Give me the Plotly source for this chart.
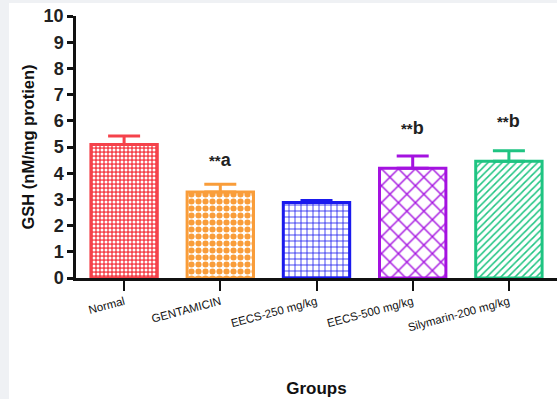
import plotly.graph_objects as go

groups = ["Normal", "GENTAMICIN", "EECS-250 mg/kg", "EECS-500 mg/kg", "Silymarin-200 mg/kg"]
tick_labels = ["Normal", "GENTAMICIN", "EECS-250 mg/kg", "EECS-500 mg/kg", "Silymarin-200 mg/kg"]
gsh_mean = [5.10, 3.28, 2.88, 4.19, 4.46]
gsh_sem = [0.32, 0.30, 0.08, 0.47, 0.40]
sig_labels = ["", "**a", "", "**b", "**b"]
sig_y = [None, 4.5, None, 5.72, 5.98]

colors = ["#f5424b", "#f99d3a", "#1a1aee", "#a412e0", "#1fc482"]
pat_shape = [".", ".", "+", "x", "/"]
pat_bg = ["#f5424b", "white", "white", "white", "white"]
pat_fg = ["white", "#f99d3a", "#1a1aee", "#a412e0", "#1fc482"]
pat_size = [4, 7, 6, 12, 5]
pat_sol = [0.45, 0.6, 0.25, 0.22, 0.3]

fig = go.Figure()
for i, g in enumerate(groups):
    fig.add_trace(go.Bar(
        x=[g], y=[gsh_mean[i]], width=0.69,
        marker=dict(
            color=pat_bg[i],
            line=dict(color=colors[i], width=3),
            pattern=dict(shape=pat_shape[i], bgcolor=pat_bg[i], fgcolor=pat_fg[i],
                         size=pat_size[i], solidity=pat_sol[i], fillmode="replace"),
        ),
        error_y=dict(type="data", array=[gsh_sem[i]], arrayminus=[0], symmetric=False,
                     color=colors[i], thickness=3, width=16),
        showlegend=False,
    ))

for i, g in enumerate(groups):
    if sig_labels[i]:
        stars = sig_labels[i][:2]
        letter = sig_labels[i][2:]
        fig.add_annotation(
            x=g, y=sig_y[i], xref="x", yref="y", showarrow=False,
            text="<b><span style='font-size:15px'>" + stars + "</span>" + letter + "</b>",
            font=dict(family="Liberation Sans, Arial", size=18, color="#222"),
        )

fig.add_shape(type="rect", xref="paper", yref="paper", layer="below",
              x0=(9 - 76) / 481, x1=1.02, y0=-0.47, y1=(278 - 3) / 262,
              fillcolor="white", line=dict(width=0))

fig.update_layout(
    width=557, height=399,
    margin=dict(l=76, r=0, t=16, b=121),
    paper_bgcolor="#eff1f4", plot_bgcolor="white",
    barmode="overlay",
    font=dict(family="Liberation Sans, Arial", color="#111"),
    xaxis=dict(
        type="category", range=[-0.5, 4.5],
        tickmode="array", tickvals=groups, ticktext=tick_labels,
        tickangle=-15, tickfont=dict(size=11.5, color="#111"),
        showline=True, linecolor="#111", linewidth=2.5,
        ticks="outside", ticklen=10, tickwidth=2, tickcolor="#111",
        showgrid=False, zeroline=False,
        title=dict(text="<b>Groups</b>", font=dict(size=17, color="#111"), standoff=50),
    ),
    yaxis=dict(
        range=[0, 10], dtick=1, tick0=0,
        tickfont=dict(size=18, color="#222"),
        showline=True, linecolor="#111", linewidth=2.5,
        ticks="outside", ticklen=6, tickwidth=2.5, tickcolor="#111",
        showgrid=False, zeroline=False,
        title=dict(text="<b>GSH (nM/mg protien)</b>", font=dict(size=16.5, color="#111"), standoff=5),
    ),
)
fig.for_each_yaxis(lambda a: a.update(tickprefix="<b>", ticksuffix="</b>"))

fig.write_html("out.html")
